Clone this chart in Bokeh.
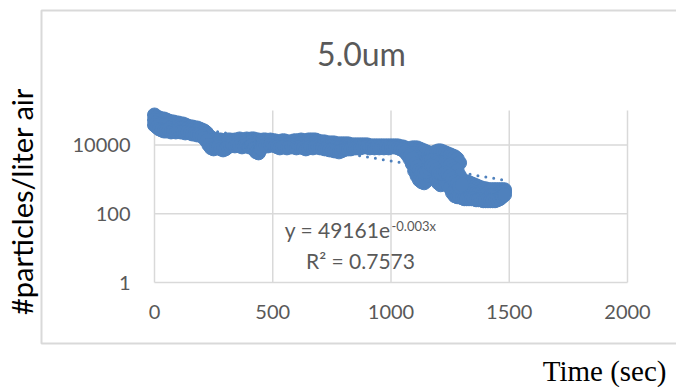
import numpy as np
from bokeh.plotting import figure
from bokeh.models import (ColumnDataSource, FixedTicker, NumeralTickFormatter, Label,
                          BoxAnnotation, Range1d)
from bokeh.embed import file_html
from bokeh.resources import INLINE

# ---------------- data ----------------
time_s = list(range(0, 1490, 10))

count_hi = [74100, 64800, 60600, 56700, 56700, 53000, 49600, 46400, 46400, 43400,
            43400, 40600, 40600, 38000, 35500, 33200, 33200, 31100, 31100, 29100,
            27200, 25400, 22300, 18200, 15900, 14900, 13900, 13900, 13900, 13100,
            13100, 13900, 13900, 13100, 13900, 13900, 14900, 13900, 13900, 14900,
            13900, 14900, 14900, 13900, 13900, 13100, 13900, 13900, 13100, 13900,
            13100, 13100, 12200, 12200, 13100, 13100, 12200, 12200, 12200, 13100,
            13100, 13100, 13900, 13100, 13100, 13900, 13900, 13900, 13900, 13100,
            12200, 12200, 12200, 11400, 11400, 11400, 11400, 10700, 10700, 10700,
            10700, 10700, 10700, 10000, 10000, 10000, 10000, 10000, 10000, 10000,
            10000, 9350, 9350, 9350, 9350, 9350, 9350, 9350, 9350, 9350,
            9350, 9350, 9350, 9350, 8750, 8750, 8190, 7660,
            7660, 8190, 8190, 8190, 7660, 7160, 6700, 6270, 5860, 5480,
            5860, 6270, 6700, 6700, 6270, 5860, 5480, 5130, 4800, 4490,
            3930, 3010, 905,
            846, 846, 792, 741, 693, 648, 606, 567, 531, 531,
            497, 497, 497, 497, 497, 497, 497, 497]

count_mid = [53000, 46400, 43400, 40600, 38000, 35500, 38000, 33200, 35500, 33200,
             33200, 31100, 31100, 29100, 29100, 27200, 27200, 25400, 25400, 23800,
             22300, 20800, 17100, 13900, 11400, 10700, 10700, 11400, 10700, 10000,
             10000, 11400, 11400, 11400, 11400, 12200, 12200, 11400, 11400, 12200,
             11400, 12200, 10700, 9350, 9350, 10000, 11400, 12200, 11400, 12200,
             11400, 11400, 10700, 10000, 10700, 10700, 10000, 10700, 10700, 10700,
             10700, 10700, 11400, 10700, 10000, 10700, 11400, 10700, 11400, 10700,
             10000, 10000, 10000, 9350, 9350, 9350, 8750, 8750, 8190, 8750,
             8750, 9350, 9350, 8750, 9350, 9350, 9350, 9350, 9350, 9350,
             9350, 8750, 9000, 8750, 9000, 8750, 9000, 8750, 9000, 8750,
             9000, 9000, 9000, 8750, 8190, 8190, 7160, 6270,
             5860, 5860, 4800, 4200, 3930, 3440, 3210, 3210, 3440, 3670,
             3670, 3440, 3210, 3010, 3010, 3010, 2810, 2630, 2300, 2020,
             1760, 1260, 497,
             497, 464, 464, 464, 434, 406, 380, 380, 356, 356,
             333, 333, 333, 356, 356, 380, 406, 434]

count_lo = [38000, 33200, 29100, 27200, 25400, 25400, 27200, 23800, 25400, 23800,
            25400, 23800, 23800, 22300, 23800, 22300, 20800, 20800, 19500, 19500,
            18200, 15900, 13100, 10000, 8190, 7660, 8190, 8750, 7660, 7160,
            7660, 8750, 9350, 10000, 9350, 10000, 9350, 8750, 9350, 10000,
            8750, 9350, 7660, 6270, 5860, 7660, 9350, 10000, 9350, 10000,
            10000, 9350, 8750, 8190, 8750, 8750, 8190, 8750, 8750, 8750,
            8190, 8750, 8750, 8190, 7660, 8190, 8750, 8190, 8750, 8750,
            8190, 8190, 7660, 7660, 7160, 7160, 6700, 6700, 6270, 6700,
            7160, 7660, 7660, 7660, 8190, 8190, 8190, 8190, 8750, 8750,
            8750, 8190, 8750, 8190, 8750, 8190, 8750, 8190, 8750, 8190,
            8750, 8750, 8750, 8190, 7660, 7160, 6270, 5130,
            3930, 2810, 1760, 1260, 964, 846, 792, 905, 1260, 1760,
            1440, 1030, 792, 693, 741, 792, 693, 567, 406, 333,
            311, 311, 291,
            272, 272, 272, 272, 272, 254, 254, 254, 238, 238,
            238, 238, 238, 238, 254, 272, 311, 356]

# extra points filling the steep drop between 1080 s and 1300 s
time_drop = list(range(1080, 1310, 10))
count_drop = [4800, 3930, 2810, 2300, 1880, 1650, 1540, 1650, 2020, 2460,
              2300, 1880, 1540, 1440, 1440, 1540, 1440, 1260, 1030, 846,
              741, 606, 693]

# exponential trendline (as fitted; label shows rounded exponent)
trend_a = 49161
trend_b = -0.00267

x_ticks = [0, 500, 1000, 1500, 2000]
y_ticks = [1, 100, 10000]
x_lim = (0, 2000)
y_lim = (1, 100000)

# ---------------- layout (canvas pixels) ----------------
W, H = 676, 387
PX0, PX1 = 154, 627   # pixel of x_lim[0], x_lim[1]
PYB, PYT = 282, 110   # pixel of y_lim[0], y_lim[1]

kx = (x_lim[1] - x_lim[0]) / (PX1 - PX0)
x_range = Range1d(x_lim[0] - PX0 * kx, x_lim[1] + (W - PX1) * kx)
ly0, ly1 = np.log10(y_lim[0]), np.log10(y_lim[1])
ky = (ly1 - ly0) / (PYB - PYT)
y_range = Range1d(10 ** (ly0 - (H - PYB) * ky), 10 ** (ly1 + PYT * ky))

p = figure(width=W, height=H, output_backend="svg", toolbar_location=None,
           x_range=x_range, y_range=y_range, y_axis_type="log", min_border=0)
p.title.visible = False
p.outline_line_color = None
p.background_fill_color = "white"
p.border_fill_color = "white"
p.xgrid.visible = False
p.ygrid.visible = False

grid_col = "#d9d9d9"
# gridlines limited to the plot area
p.segment(x0=x_ticks, y0=[y_lim[0]] * len(x_ticks), x1=x_ticks, y1=[y_lim[1]] * len(x_ticks),
          line_color=grid_col, line_width=1.5)
p.segment(x0=[x_lim[0]] * len(y_ticks), y0=y_ticks, x1=[x_lim[1]] * len(y_ticks), y1=y_ticks,
          line_color=grid_col, line_width=1.5)

p.xaxis.ticker = FixedTicker(ticks=x_ticks)
p.yaxis.ticker = FixedTicker(ticks=y_ticks)
p.yaxis.formatter = NumeralTickFormatter(format="0")
p.xaxis.fixed_location = y_lim[0]
p.yaxis.fixed_location = x_lim[0]
for ax in (p.xaxis, p.yaxis):
    ax.axis_line_color = None
    ax.major_tick_line_color = None
    ax.minor_tick_line_color = None
    ax.major_label_text_font = "Lato"
    ax.major_label_text_font_size = "20px"
    ax.major_label_text_color = "#595959"
p.xaxis.major_label_standoff = 16
p.yaxis.major_label_standoff = 18

blue = "#4F81BD"

# trendline (behind markers)
tx = np.linspace(min(time_s), max(time_s), 200)
ty = trend_a * np.exp(trend_b * tx)
p.line(tx, ty, line_color=blue, line_width=3, line_dash="0 8", line_cap="round")

xs = time_s * 3 + time_drop
ys = count_hi + count_mid + count_lo + count_drop
src = ColumnDataSource(dict(x=xs, y=ys))
p.scatter("x", "y", source=src, size=14, fill_color=blue, line_color=blue)


def sy(Y):
    return H - Y


# chart-area border
p.add_layout(BoxAnnotation(left=41, right=W + 40, top=sy(10), bottom=sy(343),
                           left_units="screen", right_units="screen",
                           top_units="screen", bottom_units="screen",
                           fill_color=None, fill_alpha=0, line_color=grid_col,
                           line_width=2, line_alpha=1, level="underlay"))

p.add_layout(Label(x=361, y=sy(53), x_units="screen", y_units="screen",
                   text="5.0um", text_align="center", text_baseline="middle",
                   text_font="Lato", text_font_size="32px", text_color="#595959"))

p.add_layout(Label(x=21, y=sy(201), x_units="screen", y_units="screen",
                   text="#particles/liter air", angle=np.pi / 2,
                   text_align="center", text_baseline="middle",
                   text_font="Lato", text_font_size="29px", text_color="#000000"))

p.add_layout(Label(x=666, y=sy(370), x_units="screen", y_units="screen",
                   text="Time (sec)", text_align="right", text_baseline="middle",
                   text_font="Liberation Serif", text_font_size="29px",
                   text_color="#000000"))

p.add_layout(Label(x=390, y=sy(229), x_units="screen", y_units="screen",
                   text="y = 49161e", text_align="right", text_baseline="middle",
                   text_font="Lato", text_font_size="21px", text_color="#595959"))
p.add_layout(Label(x=391, y=sy(225), x_units="screen", y_units="screen",
                   text="-0.003x", text_align="left", text_baseline="middle",
                   text_font="Lato", text_font_size="13px", text_color="#595959"))
p.add_layout(Label(x=360, y=sy(260), x_units="screen", y_units="screen",
                   text="R² = 0.7573", text_align="center", text_baseline="middle",
                   text_font="Lato", text_font_size="21px", text_color="#595959"))

open("out.html", "w").write(file_html(p, INLINE))
